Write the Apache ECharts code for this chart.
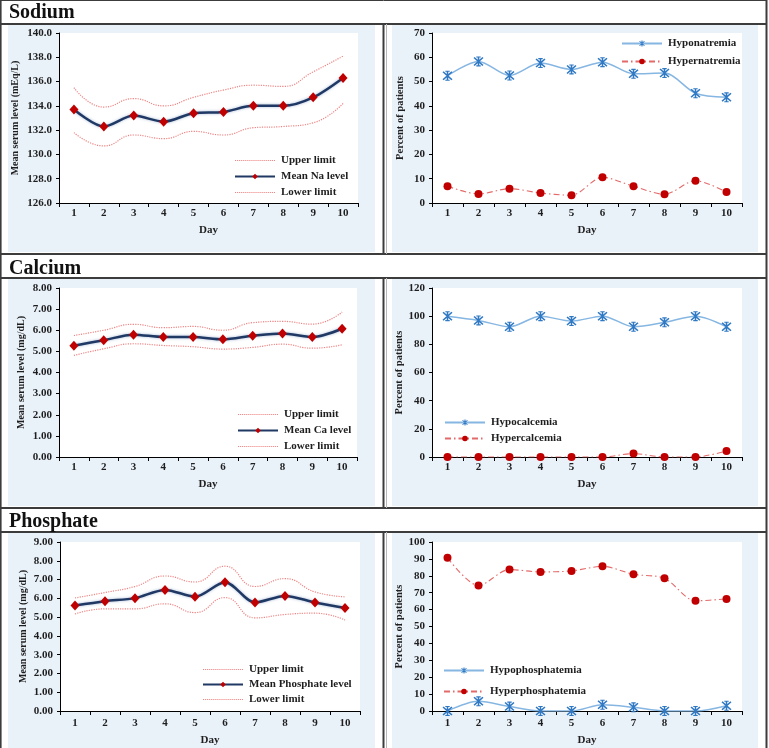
<!DOCTYPE html>
<html>
<head>
<meta charset="utf-8">
<script src="https://cdn.jsdelivr.net/npm/echarts@6/dist/echarts.min.js"></script>
<style>
html,body{margin:0;padding:0;background:#fff;}
#c{width:769px;height:748px;}
</style>
</head>
<body>
<div id="c"></div>
<script>
// ---------- data ----------
const days = ['1','2','3','4','5','6','7','8','9','10'];

const naUpper = [135.5, 133.9, 134.6, 134.0, 134.7, 135.3, 135.7, 135.6, 136.8, 138.1];
const naMean  = [133.7, 132.3, 133.2, 132.7, 133.4, 133.5, 134.0, 134.0, 134.7, 136.3];
const naLower = [131.8, 130.7, 131.6, 131.3, 131.9, 131.6, 132.2, 132.3, 132.6, 134.2];
const hypoNa  = [52.4, 58.3, 52.5, 57.6, 55.0, 58.0, 53.2, 53.5, 45.2, 43.5];
const hyperNa = [6.9, 3.7, 5.9, 4.1, 3.2, 10.6, 6.9, 3.6, 9.2, 4.5];

const caUpper = [5.75, 6.00, 6.28, 6.12, 6.18, 6.00, 6.36, 6.42, 6.29, 6.86];
const caMean  = [5.27, 5.53, 5.79, 5.68, 5.68, 5.57, 5.74, 5.85, 5.68, 6.07];
const caLower = [4.81, 5.12, 5.36, 5.28, 5.22, 5.11, 5.19, 5.34, 5.15, 5.31];
const hypoCa  = [100, 97, 92.5, 100, 96.5, 100, 92.5, 95.6, 100, 92.5];
const hyperCa = [0, 0, 0, 0, 0, 0, 2.4, 0, 0, 4.3];

const poUpper = [6.02, 6.31, 6.63, 7.19, 6.87, 7.71, 6.63, 7.05, 6.34, 6.08];
const poMean  = [5.62, 5.85, 6.01, 6.45, 6.09, 6.86, 5.78, 6.13, 5.78, 5.49];
const poLower = [5.17, 5.44, 5.44, 5.71, 5.24, 6.04, 4.96, 5.14, 5.21, 4.85];
const hypoPo  = [0, 5.7, 2.6, 0, 0, 3.7, 2.2, 0, 0, 3.1];
const hyperPo = [90.7, 74.2, 83.7, 82.3, 82.9, 85.6, 80.9, 78.5, 65.2, 66.3];

// axis ranges [min, max, interval]
const naRange = [126, 140, 2];
const caRange = [0, 8, 1];
const poRange = [0, 9, 1];
const pctNaRange = [0, 70, 10];
const pctCaRange = [0, 120, 20];
const pctPoRange = [0, 100, 10];

const sectionTitles = ['Sodium', 'Calcium', 'Phosphate'];

// ---------- styles ----------
const FONT = "'Liberation Serif', 'Times New Roman', serif";
const TXT = '#1e1e1e';
const STAR = 'path://M4.3,0 L5.7,0 L5.7,10 L4.3,10 Z M0.5,1.5 L1.5,0.5 L9.5,8.5 L8.5,9.5 Z M8.5,0.5 L9.5,1.5 L1.5,9.5 L0.5,8.5 Z M3,0 L7,0 L7,1.1 L3,1.1 Z M3,8.9 L7,8.9 L7,10 L3,10 Z';
let dots = 'path://';
for (let k = 0; k < 20; k++) { const x0 = k * 2; dots += 'M' + x0 + ',0 L' + (x0 + 1.1) + ',0 L' + (x0 + 1.1) + ',1.1 L' + x0 + ',1.1 Z '; }
const DOTTED = dots.trim();

const grids = [
  {left: 59, top: 33, width: 299, height: 170},
  {left: 432, top: 33, width: 310, height: 170},
  {left: 59, top: 288, width: 298, height: 169},
  {left: 432, top: 288, width: 310, height: 169},
  {left: 60, top: 542, width: 300, height: 169},
  {left: 432, top: 542, width: 310, height: 169}
].map(g => Object.assign({show: true, backgroundColor: '#fff', borderWidth: 0}, g));

function xAxis(i) {
  const ph = i >= 4;
  return {
    type: 'category', gridIndex: i, data: days, boundaryGap: true,
    name: 'Day', nameLocation: 'middle', nameGap: ph ? 24 : 22,
    nameTextStyle: {fontFamily: FONT, fontWeight: 'bold', fontSize: 11, color: TXT},
    axisLine: {show: true, lineStyle: {color: '#000', width: 1}},
    axisTick: {show: true, length: 4, alignWithLabel: false, lineStyle: {color: '#000'}},
    axisLabel: {fontFamily: FONT, fontWeight: 'bold', fontSize: 11, color: TXT, margin: ph ? 7 : 5},
    splitLine: {show: false}
  };
}
function yAxis(i, r, dec, name, gap, nsize) {
  return {
    type: 'value', gridIndex: i, min: r[0], max: r[1], interval: r[2],
    name: name, nameLocation: 'middle', nameRotate: 90, nameGap: gap,
    nameTextStyle: {fontFamily: FONT, fontWeight: 'bold', fontSize: nsize, color: TXT},
    axisLine: {show: true, lineStyle: {color: '#000', width: 1}},
    axisTick: {show: true, length: 3, lineStyle: {color: '#000'}},
    axisLabel: {fontFamily: FONT, fontWeight: 'bold', fontSize: 11, color: TXT, margin: 7,
      formatter: v => v.toFixed(dec)},
    splitLine: {show: false}
  };
}

const LIMIT_C = '#ee8585';
function limitS(name, data, i) {
  return {type: 'line', name, data, xAxisIndex: i, yAxisIndex: i, smooth: 0.5,
    symbol: 'none', itemStyle: {color: LIMIT_C},
    lineStyle: {color: LIMIT_C, width: 1.2, type: 'dotted'}, z: 2};
}
function meanS(name, data, i) {
  return {type: 'line', name, data, xAxisIndex: i, yAxisIndex: i, smooth: 0.3,
    symbol: 'diamond', symbolSize: [9, 10], itemStyle: {color: '#c00000'},
    lineStyle: {color: '#1f3864', width: 2.5, shadowColor: 'rgba(110,140,185,0.6)', shadowBlur: 3},
    z: 3};
}
function hypoS(name, data, i) {
  return {type: 'line', name, data, xAxisIndex: i, yAxisIndex: i, smooth: 0.3,
    symbol: STAR, symbolSize: 10, itemStyle: {color: '#2f78c4'},
    lineStyle: {color: '#86b6e2', width: 1.5}, z: 3};
}
function hyperS(name, data, i) {
  return {type: 'line', name, data, xAxisIndex: i, yAxisIndex: i, smooth: 0.3,
    symbol: 'circle', symbolSize: 8, itemStyle: {color: '#c00000'},
    lineStyle: {color: '#e46a6a', width: 1.1, type: [6, 3, 1.5, 3]}, z: 3};
}

function legend(names, left, top, gap) {
  return {data: names.map(n => /limit/.test(n) ? {name: n, icon: DOTTED} : {name: n}),
    orient: 'vertical', left, top, padding: 0, itemGap: gap,
    itemWidth: 40, itemHeight: 7, selectedMode: false,
    textStyle: {fontFamily: FONT, fontWeight: 'bold', fontSize: 11, color: TXT, padding: [0, 0, 0, 1]}};
}

// ---------- frame graphics ----------
const blueRows = [[25, 252], [279, 506], [533, 748]];
const hdrLines = [24, 278, 532];
const sepLines = [254, 508];
const titleY = [13, 268.5, 521.5];
const LC = '#3c3c3c';
const graphic = [];
graphic.push({type: 'rect', z: -20, silent: true, shape: {x: 0, y: 0, width: 769, height: 748}, style: {fill: '#fff'}});
blueRows.forEach(r => {
  graphic.push({type: 'rect', z: -10, silent: true, shape: {x: 8, y: r[0], width: 367, height: r[1] - r[0]}, style: {fill: '#e9f1f9'}});
  graphic.push({type: 'rect', z: -10, silent: true, shape: {x: 392, y: r[0], width: 366, height: r[1] - r[0]}, style: {fill: '#e9f1f9'}});
});
function ln(x1, y1, x2, y2, w, c) {
  graphic.push({type: 'line', z: 50, silent: true, shape: {x1, y1, x2, y2}, style: {stroke: c || LC, lineWidth: w}});
}
ln(0, 0.5, 767, 0.5, 1);
ln(0.8, 0, 0.8, 748, 1.6);
ln(766.5, 0, 766.5, 748, 2);
hdrLines.forEach(y => ln(0, y, 767, y, 2));
sepLines.forEach(y => ln(0, y, 767, y, 2));
[[24, 254], [278, 508], [532, 748]].forEach(s => {
  ln(383.5, s[0], 383.5, s[1], 2);
  ln(386.5, s[0], 386.5, s[1], 1, '#b8b8b8');
});
sectionTitles.forEach((t, k) => {
  graphic.push({type: 'text', z: 50, silent: true,
    style: {x: 9, y: titleY[k], text: t, verticalAlign: 'middle', align: 'left',
      font: "bold 20px 'Liberation Serif', serif", fill: '#111'}});
});

const option = {
  animation: false,
  graphic,
  grid: grids,
  xAxis: [0, 1, 2, 3, 4, 5].map(xAxis),
  yAxis: [
    yAxis(0, naRange, 1, 'Mean serum level (mEq/L)', 39, 10),
    yAxis(1, pctNaRange, 0, 'Percent of patients', 26, 10.5),
    yAxis(2, caRange, 2, 'Mean serum level (mg/dL)', 33, 10),
    yAxis(3, pctCaRange, 0, 'Percent of patients', 27, 10.5),
    yAxis(4, poRange, 2, 'Mean serum level (mg/dL)', 32, 10),
    yAxis(5, pctPoRange, 0, 'Percent of patients', 26, 10.5)
  ],
  legend: [
    legend(['Upper limit', 'Mean Na level', 'Lower limit'], 234, 155, 5),
    legend(['Hyponatremia', 'Hypernatremia'], 621, 38, 7),
    legend(['Upper limit', 'Mean Ca level', 'Lower limit'], 237, 409, 5),
    legend(['Hypocalcemia', 'Hypercalcemia'], 444, 417, 5),
    legend(['Upper limit', 'Mean Phosphate level', 'Lower limit'], 202, 664, 4),
    legend(['Hypophosphatemia', 'Hyperphosphatemia'], 443, 665, 10)
  ],
  series: [
    limitS('Upper limit', naUpper, 0), meanS('Mean Na level', naMean, 0), limitS('Lower limit', naLower, 0),
    hypoS('Hyponatremia', hypoNa, 1), hyperS('Hypernatremia', hyperNa, 1),
    limitS('Upper limit', caUpper, 2), meanS('Mean Ca level', caMean, 2), limitS('Lower limit', caLower, 2),
    hypoS('Hypocalcemia', hypoCa, 3), hyperS('Hypercalcemia', hyperCa, 3),
    limitS('Upper limit', poUpper, 4), meanS('Mean Phosphate level', poMean, 4), limitS('Lower limit', poLower, 4),
    hypoS('Hypophosphatemia', hypoPo, 5), hyperS('Hyperphosphatemia', hyperPo, 5)
  ]
};

const chart = echarts.init(document.getElementById('c'), null, {renderer: 'canvas'});
chart.setOption(option);
</script>
</body>
</html>
